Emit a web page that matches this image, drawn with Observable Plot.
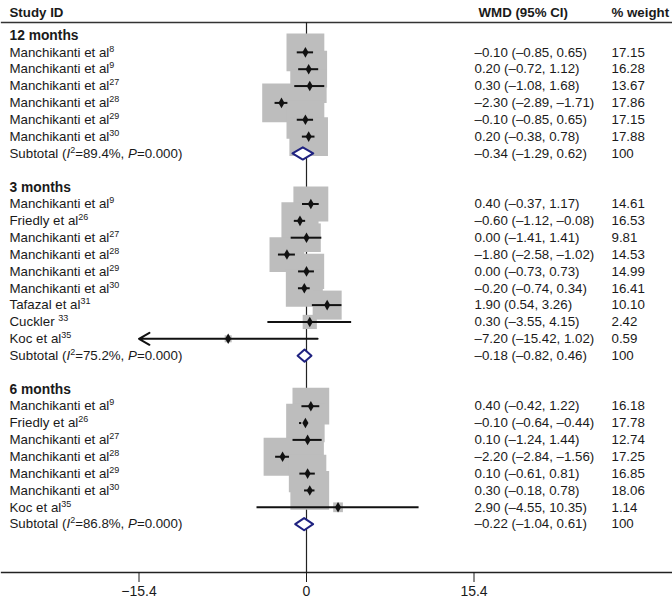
<!DOCTYPE html>
<html><head><meta charset="utf-8">
<script src="https://cdn.jsdelivr.net/npm/d3@7"></script>
<script src="https://cdn.jsdelivr.net/npm/@observablehq/plot@0.6"></script>
<style>body{margin:0;background:#fff} #chart svg{display:block}</style>
</head><body><div id="chart"></div>
<script>
// ---- data ----
const groupTitles = ["12 months", "3 months", "6 months"];

const labels12 = ["Manchikanti et al^8","Manchikanti et al^9","Manchikanti et al^27","Manchikanti et al^28","Manchikanti et al^29","Manchikanti et al^30"];
const wmd12 = [-0.10, 0.20, 0.30, -2.30, -0.10, 0.20];
const lo12  = [-0.85, -0.72, -1.08, -2.89, -0.85, -0.38];
const hi12  = [0.65, 1.12, 1.68, -1.71, 0.65, 0.78];
const w12   = [17.15, 16.28, 13.67, 17.86, 17.15, 17.88];

const labels3 = ["Manchikanti et al^9","Friedly et al^26","Manchikanti et al^27","Manchikanti et al^28","Manchikanti et al^29","Manchikanti et al^30","Tafazal et al^31","Cuckler ^33","Koc et al^35"];
const wmd3 = [0.40, -0.60, 0.00, -1.80, 0.00, -0.20, 1.90, 0.30, -7.20];
const lo3  = [-0.37, -1.12, -1.41, -2.58, -0.73, -0.74, 0.54, -3.55, -15.42];
const hi3  = [1.17, -0.08, 1.41, -1.02, 0.73, 0.34, 3.26, 4.15, 1.02];
const w3   = [14.61, 16.53, 9.81, 14.53, 14.99, 16.41, 10.10, 2.42, 0.59];

const labels6 = ["Manchikanti et al^9","Friedly et al^26","Manchikanti et al^27","Manchikanti et al^28","Manchikanti et al^29","Manchikanti et al^30","Koc et al^35"];
const wmd6 = [0.40, -0.10, 0.10, -2.20, 0.10, 0.30, 2.90];
const lo6  = [-0.42, -0.64, -1.24, -2.84, -0.61, -0.18, -4.55];
const hi6  = [1.22, -0.44, 1.44, -1.56, 0.81, 0.78, 10.35];
const w6   = [16.18, 17.78, 12.74, 17.25, 16.85, 18.06, 1.14];

const subtotalEst = [-0.34, -0.18, -0.22];
const subtotalLo  = [-1.29, -0.82, -1.04];
const subtotalHi  = [0.62, 0.46, 0.61];
const subtotalI2  = ["89.4%", "75.2%", "86.8%"];
const subtotalP   = ["0.000", "0.000", "0.000"];
const subtotalWeight = "100";

const xTicks = [-15.4, 0, 15.4];
const headers = ["Study ID", "WMD (95% CI)", "% weight"];

// ---- build rows ----
const groupData = [
  [labels12, wmd12, lo12, hi12, w12],
  [labels3, wmd3, lo3, hi3, w3],
  [labels6, wmd6, lo6, hi6, w6]
];
const fmt = v => (v < 0 ? "\u2013" : "") + Math.abs(v).toFixed(2);
const rows = [];
let r = 0;
groupData.forEach(([labs, est, lo, hi, w], g) => {
  rows.push({row: r++, kind: "group", label: groupTitles[g]});
  labs.forEach((l, i) => rows.push({row: r++, kind: "study", label: l, est: est[i], lo: lo[i], hi: hi[i], w: w[i],
    ci: `${fmt(est[i])} (${fmt(lo[i])}, ${fmt(hi[i])})`, wt: w[i].toFixed(2)}));
  rows.push({row: r++, kind: "subtotal", g, label: `Subtotal (*I*^2=${subtotalI2[g]}, *P*=${subtotalP[g]})`,
    est: subtotalEst[g], lo: subtotalLo[g], hi: subtotalHi[g],
    ci: `${fmt(subtotalEst[g])} (${fmt(subtotalLo[g])}, ${fmt(subtotalHi[g])})`, wt: subtotalWeight});
  r++;
});
const lastRow = r - 2;
const studies = rows.filter(d => d.kind === "study");
const xLimit = d3.extent(xTicks);
const inside = studies.filter(d => d.lo >= xLimit[0] && d.hi <= xLimit[1]);
const clipped = studies.filter(d => d.lo < xLimit[0]);
const subs = rows.filter(d => d.kind === "subtotal");
const dh = 0.36; // diamond half-height in row units
const diamondPts = subs.flatMap(d => [
  {g: d.g, x: d.lo, y: d.row}, {g: d.g, x: d.est, y: d.row - dh},
  {g: d.g, x: d.hi, y: d.row}, {g: d.g, x: d.est, y: d.row + dh}
]);

const font = "'Liberation Sans', Arial, Helvetica, sans-serif";
const fs = 13.3;
const plot = Plot.plot({
  width: 672, height: 599,
  marginTop: 22, marginBottom: 27, marginLeft: 1, marginRight: 1,
  style: {fontFamily: font, fontSize: fs + "px", color: "#1a1a1a", background: "#fff"},
  x: {domain: xLimit, range: [138.5, 473.5], axis: null},
  y: {domain: [0, lastRow], range: [35, 35 + 16.85 * lastRow], axis: null},
  r: {type: "sqrt", domain: [0, 100], range: [0, 51.5]},
  marks: [
    Plot.frame({anchor: "top", stroke: "#333", strokeWidth: 1.3}),
    Plot.frame({anchor: "bottom", stroke: "#222", strokeWidth: 1.3}),
    Plot.ruleX([0], {stroke: "#222", strokeWidth: 1.2}),
    Plot.dot(studies, {x: "est", y: "row", r: "w", symbol: "square", fill: "#bdbdbd", stroke: "none", sort: null}),
    Plot.ruleY(inside, {x1: "lo", x2: "hi", y: "row", stroke: "#111", strokeWidth: 2}),
    Plot.arrow(clipped, {x1: "hi", x2: d => Math.max(d.lo, xLimit[0]), y1: "row", y2: "row",
      stroke: "#111", strokeWidth: 2, headLength: 9}),
    Plot.dot(studies, {x: "est", y: "row", symbol: "diamond", r: 3.2, fill: "#111", stroke: "none"}),
    Plot.line(diamondPts, {x: "x", y: "y", z: "g", curve: "linear-closed", stroke: "#1f2280", strokeWidth: 2, fill: "white"}),
    Plot.text(rows.filter(d => d.kind === "group"), {y: "row", text: "label", frameAnchor: "left", dx: 8, textAnchor: "start", fontWeight: "bold", fontSize: 13.8}),
    Plot.text(rows.filter(d => d.kind !== "group"), {y: "row", text: "label", frameAnchor: "left", dx: 8, textAnchor: "start"}),
    Plot.text(rows.filter(d => d.kind !== "group"), {y: "row", text: "ci", frameAnchor: "left", dx: 473, textAnchor: "start"}),
    Plot.text(rows.filter(d => d.kind !== "group"), {y: "row", text: "wt", frameAnchor: "left", dx: 610, textAnchor: "start"}),
    Plot.text([headers[0]], {frameAnchor: "top-left", dx: 8, dy: -15, textAnchor: "start", fontWeight: "bold"}),
    Plot.text([headers[1]], {frameAnchor: "top-left", dx: 477, dy: -15, textAnchor: "start", fontWeight: "bold"}),
    Plot.text([headers[2]], {frameAnchor: "top-left", dx: 610, dy: -15, textAnchor: "start", fontWeight: "bold"}),
    Plot.axisX({ticks: xTicks, tickSize: 10, tickPadding: 4, fontSize: 14, anchor: "bottom",
      tickFormat: d => (d < 0 ? "\u2212" : "") + Math.abs(d)})
  ]
});
document.getElementById("chart").appendChild(plot);

// rich text: *italic* and ^superscript
const NS = "http://www.w3.org/2000/svg";
plot.querySelectorAll("text").forEach(t => {
  const s = t.textContent;
  if (!/[\^*]/.test(s)) return;
  t.textContent = "";
  const re = /\*([^*]+)\*|\^(\d+)|([^*^]+)/g;
  let m, raised = false;
  while ((m = re.exec(s))) {
    const ts = document.createElementNS(NS, "tspan");
    if (m[2]) {
      ts.textContent = m[2];
      ts.setAttribute("font-size", "9");
      ts.setAttribute("dy", "-5");
      raised = true;
      t.appendChild(ts);
      continue;
    }
    if (m[1]) { ts.textContent = m[1]; ts.setAttribute("font-style", "italic"); }
    else ts.textContent = m[3];
    if (raised) { ts.setAttribute("dy", "5"); raised = false; }
    t.appendChild(ts);
  }
});
</script></body></html>
